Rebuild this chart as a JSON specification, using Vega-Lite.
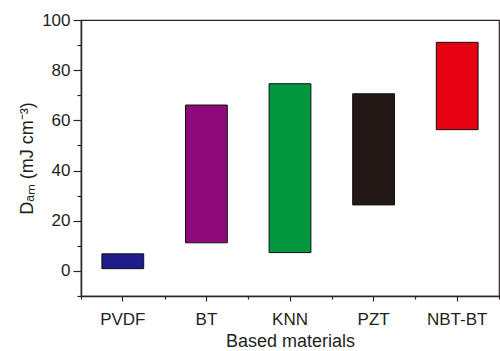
{
  "$schema": "https://vega.github.io/schema/vega-lite/v6.json",
  "autosize": "none",
  "width": 418,
  "height": 276,
  "padding": {"left": 81, "top": 20, "right": 1, "bottom": 55},
  "background": "white",
  "config": {
    "view": {"stroke": "#2b2523", "strokeWidth": 1.2},
    "font": "Liberation Sans"
  },
  "data": {
    "values": [
      {"material": "PVDF", "low": 0.9, "high": 6.8},
      {"material": "BT", "low": 11.2, "high": 66.1},
      {"material": "KNN", "low": 7.3, "high": 74.6},
      {"material": "PZT", "low": 26.3, "high": 70.6},
      {"material": "NBT-BT", "low": 56.3, "high": 91.1}
    ]
  },
  "resolve": {"axis": {"x": "independent", "y": "independent"}},
  "layer": [
    {
      "mark": {"type": "bar", "width": {"band": 0.5}, "stroke": "#111111", "strokeWidth": 1},
      "encoding": {
        "x": {
          "field": "material", "type": "nominal", "sort": null,
          "scale": {"paddingInner": 0, "paddingOuter": 0},
          "axis": {
            "orient": "bottom",
            "title": "Based materials",
            "titleFont": "Liberation Sans", "titleFontSize": 18, "titleFontWeight": "normal",
            "titleColor": "#231f20", "titlePadding": 5,
            "labelFont": "Liberation Sans", "labelFontSize": 17, "labelColor": "#231f20",
            "labelAngle": 0, "labelPadding": 10,
            "tickSize": 5, "tickColor": "#2b2523", "tickWidth": 1.2,
            "domainColor": "#2b2523", "domainWidth": 1.5
          }
        },
        "y": {
          "field": "low", "type": "quantitative",
          "scale": {"domain": [-10, 100], "nice": false, "zero": false},
          "axis": {
            "orient": "left",
            "title": "Dₐₘ (mJ cm⁻³)",
            "titleFont": "Liberation Sans", "titleFontSize": 18, "titleFontWeight": "normal",
            "titleColor": "#231f20", "titlePadding": 5,
            "values": [-10, 0, 10, 20, 30, 40, 50, 60, 70, 80, 90, 100],
            "labelExpr": "datum.value % 20 === 0 ? datum.label : ''",
            "labelFont": "Liberation Sans", "labelFontSize": 17, "labelColor": "#231f20",
            "labelPadding": 3,
            "tickSize": {"condition": {"test": "datum.value % 20 === 0", "value": 8}, "value": 4},
            "tickColor": "#2b2523", "tickWidth": 1.2,
            "domainColor": "#2b2523", "domainWidth": 1.5,
            "grid": false
          }
        },
        "y2": {"field": "high"},
        "color": {
          "field": "material", "type": "nominal",
          "scale": {
            "domain": ["PVDF", "BT", "KNN", "PZT", "NBT-BT"],
            "range": ["#1d1d8c", "#8e0a7a", "#00973f", "#231815", "#e50012"]
          },
          "legend": null
        }
      }
    },
    {
      "mark": {"type": "bar", "width": {"band": 0.5}, "opacity": 0},
      "encoding": {
        "x": {
          "field": "material", "type": "nominal", "sort": null,
          "axis": {
            "orient": "bottom",
            "title": null, "labels": false, "domain": false,
            "tickBand": "extent", "tickSize": 3, "tickColor": "#2b2523", "tickWidth": 1.2
          }
        },
        "y": {"field": "low", "type": "quantitative", "axis": null},
        "y2": {"field": "high"}
      }
    }
  ]
}
